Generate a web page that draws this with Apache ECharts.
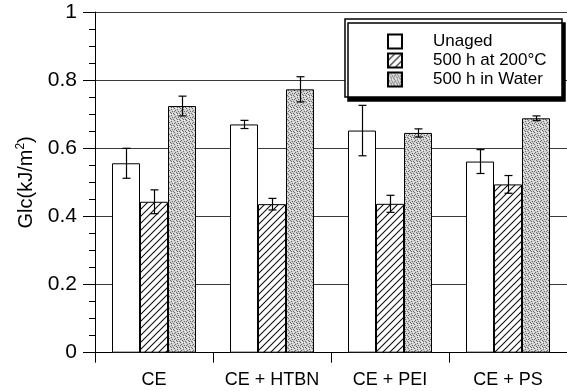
<!DOCTYPE html>
<html>
<head>
<meta charset="utf-8">
<script src="https://cdn.jsdelivr.net/npm/echarts@6/dist/echarts.min.js"></script>
<style>
html,body{margin:0;padding:0;background:#fff;}
#chart{width:567px;height:391px;}
</style>
</head>
<body>
<div id="chart"></div>
<script>
// ---- data ----
var categories = ['CE', 'CE + HTBN', 'CE + PEI', 'CE + PS'];
var seriesNames = ['Unaged', '500 h at 200°C', '500 h in Water'];
var unaged = [0.556, 0.670, 0.652, 0.561];
var unagedErr = [0.044, 0.012, 0.074, 0.035];
var aged200 = [0.443, 0.436, 0.437, 0.494];
var aged200Err = [0.035, 0.017, 0.025, 0.026];
var water = [0.724, 0.773, 0.645, 0.688];
var waterErr = [0.029, 0.037, 0.012, 0.007];
var yTicks = [0, 0.2, 0.4, 0.6, 0.8, 1];

// ---- patterns ----
function hatchPattern() {
  var s = 7, c = document.createElement('canvas');
  c.width = s; c.height = s;
  var g = c.getContext('2d');
  g.fillStyle = '#fff'; g.fillRect(0, 0, s, s);
  g.strokeStyle = '#111'; g.lineWidth = 1.1;
  g.beginPath();
  g.moveTo(-1, s + 1); g.lineTo(s + 1, -1);
  g.moveTo(-1, 1); g.lineTo(1, -1);
  g.moveTo(s - 1, s + 1); g.lineTo(s + 1, s - 1);
  g.stroke();
  return c;
}
function stipplePattern() {
  var s = 6, c = document.createElement('canvas');
  c.width = s; c.height = s;
  var g = c.getContext('2d');
  g.fillStyle = '#cfcfcf'; g.fillRect(0, 0, s, s);
  var dots = [[0,0],[3,1],[1,2],[4,3],[2,4],[5,5],[0,3],[3,5]];
  g.fillStyle = '#6e6e6e';
  dots.forEach(function (d) { g.fillRect(d[0], d[1], 1, 1); });
  g.fillStyle = '#eeeeee';
  [[2,0],[5,2],[1,5],[4,0]].forEach(function (d) { g.fillRect(d[0], d[1], 1, 1); });
  return c;
}
var fills = [
  '#ffffff',
  { image: hatchPattern(), repeat: 'repeat' },
  { image: stipplePattern(), repeat: 'repeat' }
];
var values = [unaged, aged200, water];
var errs = [unagedErr, aged200Err, waterErr];
var BAR_W = 28;

var font = "'Liberation Sans', Arial, Helvetica, sans-serif";
var series = [];
values.forEach(function (vals, i) {
  series.push({
    name: seriesNames[i],
    type: 'bar',
    data: vals,
    barWidth: BAR_W,
    barGap: '0%',
    itemStyle: { color: fills[i], borderColor: '#000', borderWidth: 1 },
    z: 2
  });
});
values.forEach(function (vals, i) {
  var off = (i - 1) * BAR_W;
  series.push({
    type: 'custom',
    name: 'err' + i,
    z: 5,
    data: vals.map(function (v, k) { return [k, v, errs[i][k]]; }),
    renderItem: function (params, api) {
      var x = api.value(0), y = api.value(1), e = api.value(2);
      var top = api.coord([x, y + e]);
      var bot = api.coord([x, y - e]);
      var cx = Math.round(top[0] + off) + 0.5;
      var cap = 4;
      var st = { stroke: '#000', lineWidth: 1.2 };
      return {
        type: 'group',
        children: [
          { type: 'line', shape: { x1: cx, y1: top[1], x2: cx, y2: bot[1] }, style: st },
          { type: 'line', shape: { x1: cx - cap, y1: top[1], x2: cx + cap, y2: top[1] }, style: st },
          { type: 'line', shape: { x1: cx - cap, y1: bot[1], x2: cx + cap, y2: bot[1] }, style: st }
        ]
      };
    }
  });
});

var chart = echarts.init(document.getElementById('chart'), null, { renderer: 'canvas' });
chart.setOption({
  animation: false,
  backgroundColor: '#fff',
  grid: { left: 95, top: 12, width: 476, height: 340.7 },
  xAxis: {
    type: 'category',
    data: categories,
    axisLine: { lineStyle: { color: '#000', width: 1 } },
    axisTick: { show: true, interval: 0, length: 10, lineStyle: { color: '#000' } },
    axisLabel: { interval: 0, color: '#000', fontSize: 18, fontFamily: font, margin: 18 },
    splitLine: { show: false }
  },
  yAxis: {
    type: 'value',
    min: yTicks[0],
    max: yTicks[yTicks.length - 1],
    interval: 0.2,
    name: 'Glc(kJ/m{sup|2})',
    nameLocation: 'middle',
    nameRotate: 90,
    nameGap: 58,
    nameTextStyle: {
      color: '#000', fontSize: 20, fontFamily: font,
      rich: { sup: { fontSize: 12, verticalAlign: 'top', padding: [0, 0, 10, 0], fontFamily: font, color: '#000' } }
    },
    axisLine: { show: true, lineStyle: { color: '#000', width: 1 } },
    axisTick: { show: true, length: 12, lineStyle: { color: '#000' } },
    minorTick: { show: true, splitNumber: 4, length: 6, lineStyle: { color: '#000' } },
    axisLabel: { color: '#000', fontSize: 21, fontFamily: font, margin: 18 },
    splitLine: { show: true, lineStyle: { color: '#3a3a3a', width: 1 } }
  },
  legend: {
    data: seriesNames,
    orient: 'vertical',
    icon: 'rect',
    left: 387,
    top: 33,
    padding: 0,
    itemWidth: 14,
    itemHeight: 14,
    itemGap: 2,
    z: 10,
    textStyle: { color: '#000', fontSize: 17, fontFamily: font, lineHeight: 14, padding: [0, 0, 0, 26] }
  },
  graphic: [{
    type: 'rect',
    z: 8,
    shape: { x: 345, y: 19, width: 217, height: 78 },
    style: { fill: '#fff', stroke: '#000', lineWidth: 1.5, shadowColor: '#000', shadowOffsetX: 3, shadowOffsetY: 4, shadowBlur: 0 }
  }],
  series: series
});
</script>
</body>
</html>
